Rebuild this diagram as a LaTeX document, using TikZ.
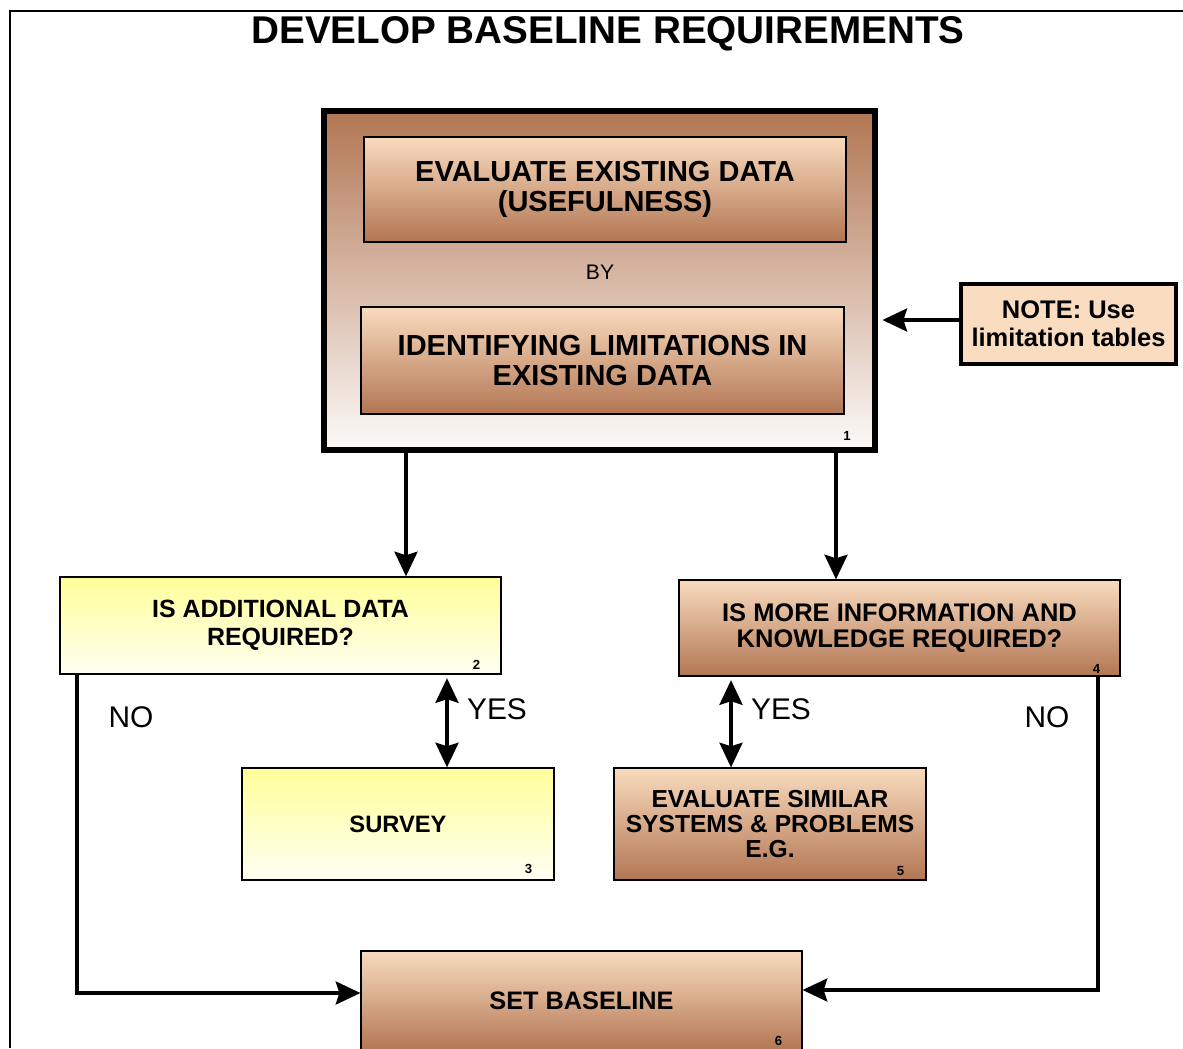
\documentclass[tikz,border=0pt]{standalone}
\usepackage{fontspec}
\setmainfont{Liberation Sans}
\usetikzlibrary{arrows.meta}
\definecolor{peachcol}{HTML}{F9DBBE}
\definecolor{browncol}{HTML}{B27653}
\definecolor{palecol}{HTML}{FCFAF9}
\definecolor{yellowcol}{HTML}{FFFF99}
\definecolor{creamcol}{HTML}{FFFFF3}
\definecolor{notecol}{HTML}{FADDC0}

\tikzset{
	box/.style={draw,line width=0.7pt,align=center,inner sep=2pt},
	brownbox/.style={box,top color=peachcol,bottom color=browncol},
	yellowbox/.style={box,top color=yellowcol,bottom color=creamcol},
	num/.style={font=\bfseries\fontsize{7.5}{8}\selectfont,inner sep=0pt,anchor=south east},
	answer/.style={font=\fontsize{17}{20}\selectfont},
	conn/.style={line width=2.3pt,-{Stealth[length=14pt,width=13pt,inset=2pt]}},
	twoway/.style={line width=2.3pt,{Stealth[length=14pt,width=13pt,inset=2pt]}-{Stealth[length=14pt,width=13pt,inset=2pt]}},
}

\begin{document}
\begin{tikzpicture}[x=0.02cm,y=-0.02cm]
\useasboundingbox (0,0) rectangle (1183,1048);
\clip (0,0) rectangle (1183,1048);
\draw[line width=0.8pt] (10,1048) -- (10,11) -- (1183,11);
\node[font=\bfseries\fontsize{22}{26}\selectfont] (title) at (608,34) {DEVELOP BASELINE REQUIREMENTS};

% step 1 with its two inner boxes
\node[draw,line width=3.2pt,top color=browncol,bottom color=palecol,minimum width=11.03cm,minimum height=6.79cm] (box1) at (599.5,280.5) {};
\node[brownbox,font=\bfseries\fontsize{16.5}{17}\selectfont,minimum width=9.64cm,minimum height=2.1cm] (eval) at (605,189.5) {EVALUATE EXISTING DATA\\(USEFULNESS)};
\node[font=\fontsize{12}{14}\selectfont] (by) at (600,272) {BY};
\node[brownbox,font=\bfseries\fontsize{16.5}{17}\selectfont,minimum width=9.66cm,minimum height=2.14cm] (ident) at (602.5,360.5) {IDENTIFYING LIMITATIONS IN\\EXISTING DATA};
\node[draw,line width=2.4pt,fill=notecol,align=center,inner sep=1pt,font=\bfseries\fontsize{14.5}{16}\selectfont,minimum width=4.3cm,minimum height=1.6cm] (note) at (1068.5,324) {NOTE: Use\\limitation tables};

% questions and answers
\node[yellowbox,font=\bfseries\fontsize{14.2}{16}\selectfont,minimum width=8.82cm,minimum height=1.94cm] (quest1) at (280.5,625.5) {IS ADDITIONAL DATA\\REQUIRED?};
\node[yellowbox,font=\bfseries\fontsize{13.5}{16}\selectfont,minimum width=6.24cm,minimum height=2.24cm] (survey) at (398,824) {SURVEY};
\node[brownbox,font=\bfseries\fontsize{14.5}{15}\selectfont,minimum width=8.82cm,minimum height=1.92cm] (quest2) at (899.5,628) {IS MORE INFORMATION AND\\KNOWLEDGE REQUIRED?};
\node[brownbox,font=\bfseries\fontsize{14}{14.5}\selectfont,minimum width=6.24cm,minimum height=2.24cm] (similar) at (770,824) {EVALUATE SIMILAR\\SYSTEMS \& PROBLEMS\\E.G.};
\node[brownbox,font=\bfseries\fontsize{14.4}{16}\selectfont,minimum width=8.82cm,minimum height=2cm] (baseline) at (581.5,1001) {SET BASELINE};

\foreach \b/\n/\dx/\dy in {box1/1/-27/-12,quest1/2/-21/-5,survey/3/-22/-7,quest2/4/-20/-3,similar/5/-22/-5,baseline/6/-20/-6}
	\node[num] (num\n) at ([shift={(\dx,\dy)}]\b.south east) {\n};

\node[answer] (yes1) at (497,709) {YES};
\node[answer] (yes2) at (781,709) {YES};
\node[answer] (no1) at (131,717) {NO};
\node[answer] (no2) at (1047,717) {NO};

% connectors
\coordinate (xa) at (406,0);
\coordinate (xb) at (836,0);
\coordinate (xc) at (447,0);
\coordinate (xd) at (731,0);
\coordinate (xl) at (77,0);
\coordinate (xr) at (1098,0);
\draw[conn,shorten >=2.5pt] ([yshift=0.08cm]note.west) -- ([yshift=0.08cm]note.west -| box1.east);
\draw[conn] (box1.south -| xa) -- (quest1.north -| xa);
\draw[conn] (box1.south -| xb) -- (quest2.north -| xb);
\draw[twoway,shorten <=2pt] (quest1.south -| xc) -- (survey.north -| xc);
\draw[twoway,shorten <=2pt] (quest2.south -| xd) -- (similar.north -| xd);
\draw[conn] (quest1.south -| xl) |- ([yshift=0.16cm]baseline.west);
\draw[conn] (quest2.south -| xr) |- ([yshift=0.22cm]baseline.east);
\end{tikzpicture}
\end{document}
